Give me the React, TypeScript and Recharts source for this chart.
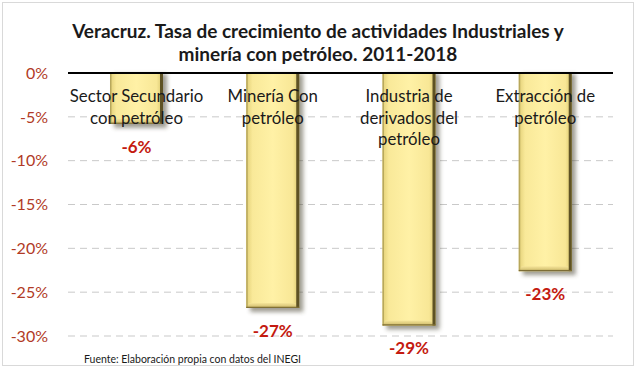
import {
  Bar,
  BarChart,
  CartesianGrid,
  LabelList,
  ReferenceLine,
  XAxis,
  YAxis,
} from "recharts";

const categories = [
  "Sector Secundario con petróleo",
  "Minería Con petróleo",
  "Industria de derivados del petróleo",
  "Extracción de petróleo",
];

// split of each category label into lines, as in the picture
const categoryLines = [
  ["Sector Secundario", "con petróleo"],
  ["Minería Con", "petróleo"],
  ["Industria de", "derivados del", "petróleo"],
  ["Extracción de", "petróleo"],
];

const growth = [-5.8, -26.8, -28.8, -22.6];
const growthLabels = ["-6%", "-27%", "-29%", "-23%"];

const yTicks = [0, -5, -10, -15, -20, -25, -30];

const titleLines = [
  "Veracruz. Tasa de crecimiento de actividades Industriales y",
  "minería con petróleo. 2011-2018",
];
const source = "Fuente: Elaboración propia con datos del INEGI";

const data = categories.map((name, i) => ({
  name,
  lines: categoryLines[i],
  value: growth[i],
  label: growthLabels[i],
}));

const FONT = "Lato, 'Open Sans', sans-serif";

const box = (p: any) => {
  const top = Math.min(p.y, p.y + p.height);
  const bottom = Math.max(p.y, p.y + p.height);
  return { x: p.x, w: p.width, top, bottom };
};

const BevelBar = (props: any) => {
  const { x, w, top, bottom } = box(props);
  const h = bottom - top;
  if (h <= 0) return null;
  return (
    <g>
      {/* soft shadow on the right and below */}
      <rect
        x={x + 4}
        y={top + 1}
        width={w}
        height={h + 3}
        fill="#403a28"
        opacity={0.5}
        filter="url(#barShadow)"
      />
      <rect x={x} y={top} width={w} height={h} fill="url(#barFill)" />
      {/* bottom bevel */}
      <polygon
        points={`${x},${bottom} ${x + w},${bottom} ${x + w - 4},${bottom - 5} ${x + 3},${bottom - 5}`}
        fill="url(#barBottom)"
      />
      {/* left and right edges */}
      <rect x={x} y={top} width={1.5} height={h} fill="#b8a85c" />
      <rect x={x + w - 3} y={top} width={3} height={h} fill="#5e5224" />
      <rect x={x} y={bottom - 1.2} width={w} height={1.2} fill="#7d6d34" />
    </g>
  );
};

const CategoryLabel = (props: any) => {
  const { x, width, y, height, index } = props;
  const top = Math.min(y, y + height);
  const lines = data[index].lines;
  return (
    <text
      x={x + width / 2}
      y={top + 29}
      textAnchor="middle"
      fontFamily={FONT}
      fontSize={16.8}
      fill="#1a1a1a"
    >
      {lines.map((l: string, i: number) => (
        <tspan key={i} x={x + width / 2} dy={i === 0 ? 0 : 21.5}>
          {l}
        </tspan>
      ))}
    </text>
  );
};

const ValueLabel = (props: any) => {
  const { x, width, y, height, value } = props;
  const bottom = Math.max(y, y + height);
  return (
    <text
      x={x + width / 2}
      y={bottom + 29}
      textAnchor="middle"
      fontFamily={FONT}
      fontWeight={700}
      fontSize={17}
      fill="#c41a10"
    >
      {value}
    </text>
  );
};

export default function App() {
  return (
    <div
      style={{
        position: "relative",
        width: 640,
        height: 371,
        background: "#fff",
        fontFamily: FONT,
      }}
    >
      <style>{`body{margin:0}`}</style>
      <div
        style={{
          position: "absolute",
          left: 2,
          top: 2,
          width: 630,
          height: 362,
          border: "1px solid #d9d9d9",
        }}
      />
      <div
        style={{
          position: "absolute",
          left: 0,
          top: 19,
          width: 636,
          textAlign: "center",
          fontSize: 19,
          fontWeight: 700,
          lineHeight: "23px",
          color: "#1a1a1a",
        }}
      >
        {titleLines.map((t) => (
          <div key={t}>{t}</div>
        ))}
      </div>
      <div
        style={{
          position: "absolute",
          left: 84,
          top: 353,
          fontSize: 10.5,
          color: "#1a1a1a",
        }}
      >
        {source}
      </div>
      <BarChart
        width={640}
        height={371}
        data={data}
        margin={{ top: 73, right: 27, bottom: 35, left: 0 }}
        style={{ position: "absolute", left: 0, top: 0 }}
      >
        <defs>
          <linearGradient id="barFill" x1="0" y1="0" x2="1" y2="0">
            <stop offset="0%" stopColor="#e3d077" />
            <stop offset="12%" stopColor="#f9e999" />
            <stop offset="50%" stopColor="#fff1a6" />
            <stop offset="88%" stopColor="#f8e796" />
            <stop offset="100%" stopColor="#d6c46a" />
          </linearGradient>
          <linearGradient id="barBottom" x1="0" y1="0" x2="0" y2="1">
            <stop offset="0%" stopColor="#f6e59a" />
            <stop offset="100%" stopColor="#cbb766" />
          </linearGradient>
          <filter id="barShadow" x="-20%" y="-20%" width="140%" height="140%">
            <feGaussianBlur stdDeviation="2" />
          </filter>
        </defs>
        <CartesianGrid
          vertical={false}
          stroke="#c9c9c9"
          strokeDasharray="7 5"
        />
        <XAxis dataKey="name" hide />
        <YAxis
          width={68}
          domain={[-30, 0]}
          ticks={yTicks}
          interval={0}
          axisLine={false}
          tickLine={false}
          tickMargin={14}
          tickFormatter={(v: number) => `${v}%`}
          tick={{ fill: "#b13a26", fontSize: 16, fontFamily: FONT }}
        />
        <Bar
          dataKey="value"
          barSize={53}
          shape={<BevelBar />}
          isAnimationActive={false}
        >
          <LabelList dataKey="name" content={<CategoryLabel />} />
          <LabelList dataKey="label" content={<ValueLabel />} />
        </Bar>
        <ReferenceLine y={0} stroke="#000" strokeWidth={2} />
      </BarChart>
    </div>
  );
}
